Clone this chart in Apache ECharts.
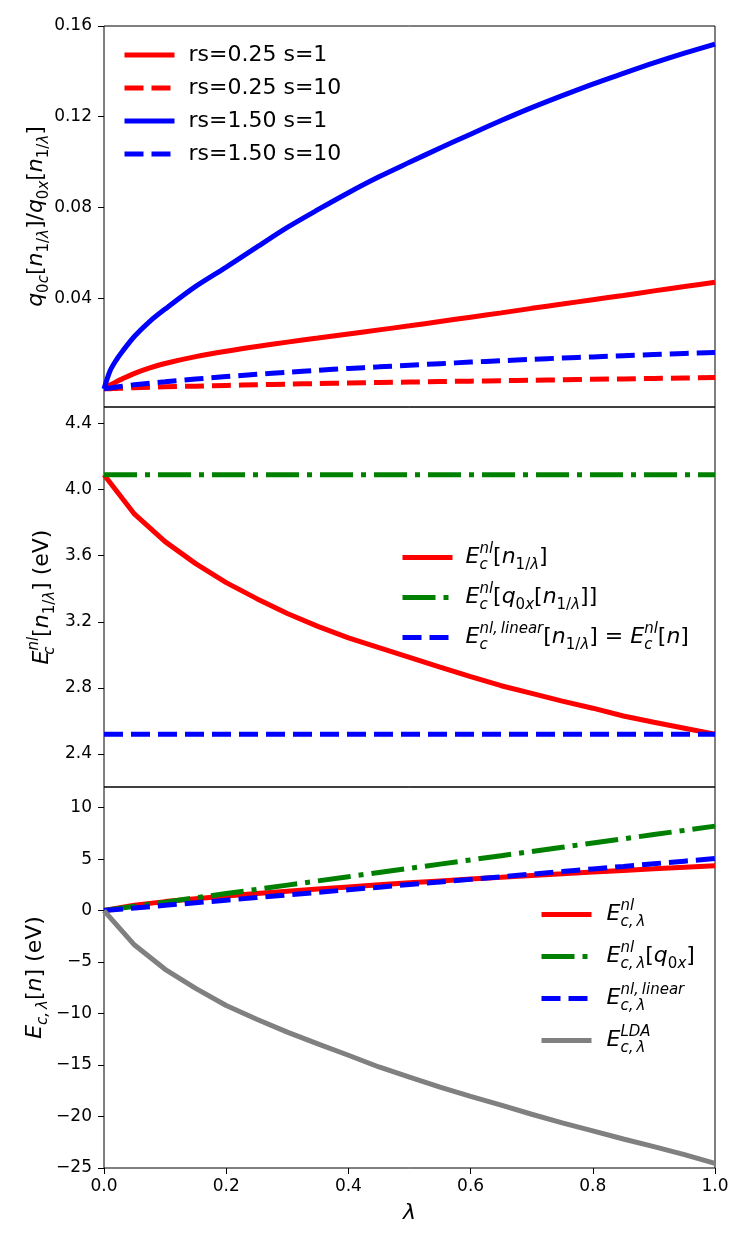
<!DOCTYPE html>
<html>
<head>
<meta charset="utf-8">
<title>Coupling-constant integrand</title>
<script src="https://cdn.jsdelivr.net/npm/echarts@6/dist/echarts.min.js"></script>
<style>
  html, body { margin: 0; padding: 0; background: #fff; }
  #chart { width: 747px; height: 1246px; }
</style>
</head>
<body>
<div id="chart"></div>
<script>
// lambda grids
var lamTop = [0, 0.01, 0.02, 0.03, 0.05, 0.075, 0.1, 0.15, 0.2, 0.25, 0.3, 0.35, 0.4,
	0.45, 0.5, 0.55, 0.6, 0.65, 0.7, 0.75, 0.8, 0.85, 0.9, 0.95, 1.0];
var lam = [0, 0.05, 0.1, 0.15, 0.2, 0.25, 0.3, 0.35, 0.4, 0.45, 0.5,
	0.55, 0.6, 0.65, 0.7, 0.75, 0.8, 0.85, 0.9, 0.95, 1.0];

// top panel: q0c/q0x
var rs025s1 = [0, 0.0017, 0.0031, 0.0044, 0.0068, 0.0092, 0.0112, 0.0142, 0.0166, 0.0187, 0.0206, 0.0224, 0.0242,
	0.0260, 0.0278, 0.0297, 0.0316, 0.0335, 0.0355, 0.0374, 0.0393, 0.0412, 0.0432, 0.0451, 0.0470];
var rs025s10 = [0, 0.0001, 0.0002, 0.0003, 0.0005, 0.0007, 0.0009, 0.0012, 0.0015, 0.0018, 0.0021, 0.0023, 0.0026,
	0.0028, 0.0030, 0.0032, 0.0034, 0.0036, 0.0038, 0.0040, 0.0042, 0.0044, 0.0046, 0.0048, 0.0050];
var rs150s1 = [0, 0.0080, 0.0127, 0.0165, 0.0232, 0.0298, 0.0352, 0.0452, 0.0537, 0.0625, 0.0712, 0.0790, 0.0865,
	0.0935, 0.0999, 0.1062, 0.1123, 0.1183, 0.1240, 0.1293, 0.1344, 0.1391, 0.1437, 0.1480, 0.1520];
var rs150s10 = [0, 0.0004, 0.0008, 0.0012, 0.0018, 0.0025, 0.0031, 0.0043, 0.0054, 0.0064, 0.0073, 0.0082, 0.0090,
	0.0097, 0.0104, 0.0111, 0.0118, 0.0124, 0.0130, 0.0136, 0.0141, 0.0146, 0.0151, 0.0156, 0.0160];

// middle panel: Ec^nl (eV)
var midNl = [4.09, 3.851, 3.685, 3.552, 3.437, 3.340, 3.250, 3.172, 3.103, 3.043, 2.985,
	2.926, 2.868, 2.813, 2.767, 2.720, 2.677, 2.630, 2.592, 2.556, 2.52];
var midQ0x = [4.09, 4.09, 4.09, 4.09, 4.09, 4.09, 4.09, 4.09, 4.09, 4.09, 4.09,
	4.09, 4.09, 4.09, 4.09, 4.09, 4.09, 4.09, 4.09, 4.09, 4.09];
var midLinear = [2.52, 2.52, 2.52, 2.52, 2.52, 2.52, 2.52, 2.52, 2.52, 2.52, 2.52,
	2.52, 2.52, 2.52, 2.52, 2.52, 2.52, 2.52, 2.52, 2.52, 2.52];

// bottom panel: Ec,lambda (eV)
var botNl = [0, 0.53, 0.87, 1.15, 1.41, 1.65, 1.88, 2.09, 2.30, 2.50, 2.69,
	2.88, 3.06, 3.23, 3.41, 3.57, 3.74, 3.90, 4.05, 4.21, 4.36];
var botQ0x = [0, 0.41, 0.82, 1.24, 1.65, 2.06, 2.47, 2.88, 3.29, 3.70, 4.10,
	4.51, 4.92, 5.33, 5.74, 6.15, 6.56, 6.97, 7.38, 7.79, 8.20];
var botLinear = [0, 0.25, 0.51, 0.76, 1.01, 1.26, 1.52, 1.77, 2.02, 2.27, 2.53,
	2.78, 3.03, 3.28, 3.54, 3.79, 4.04, 4.29, 4.55, 4.80, 5.05];
var botLDA = [0, -3.35, -5.70, -7.56, -9.22, -10.55, -11.80, -12.95, -14.05, -15.19, -16.18,
	-17.15, -18.05, -18.90, -19.78, -20.62, -21.40, -22.18, -22.93, -23.70, -24.55];

// tick labels
var xTicks = [0, 0.2, 0.4, 0.6, 0.8, 1.0];
var topTicks = [0.04, 0.08, 0.12, 0.16];
var midTicks = [2.4, 2.8, 3.2, 3.6, 4.0, 4.4];
var botTicks = [-25, -20, -15, -10, -5, 0, 5, 10];

var FONT = 'DejaVu Sans';
var DASHED = [19, 8];
var DASHDOT = [33, 8, 5, 8];

function makeRich(base) {
	var small = Math.round(base * 0.7);
	var lh = Math.round(base * 1.4);
	var sh = small;
	return {
		it: { fontFamily: FONT, fontStyle: 'italic', fontSize: base, lineHeight: lh, color: '#000' },
		rm: { fontFamily: FONT, fontSize: base, lineHeight: lh, color: '#000' },
		sub: { fontFamily: FONT, fontStyle: 'italic', fontSize: small, lineHeight: sh, verticalAlign: 'bottom', color: '#000' },
		subrm: { fontFamily: FONT, fontSize: small, lineHeight: sh, verticalAlign: 'bottom', color: '#000' },
		sup: { fontFamily: FONT, fontStyle: 'italic', fontSize: small, lineHeight: sh, verticalAlign: 'top', color: '#000' },
		sub0: { fontFamily: FONT, fontStyle: 'italic', fontSize: small, lineHeight: sh, verticalAlign: 'bottom', width: 0, color: '#000' },
		sup0: { fontFamily: FONT, fontStyle: 'italic', fontSize: small, lineHeight: sh, verticalAlign: 'top', width: 0, color: '#000' }
	};
}

var legendText = {
	'E_c^nl[n_1/λ]': '{it|E}{sub0|c}{sup|nl}{rm|[}{it|n}{subrm|1/}{sub|λ}{rm|]}',
	'E_c^nl[q_0x[n_1/λ]]': '{it|E}{sub0|c}{sup|nl}{rm|[}{it|q}{subrm|0}{sub|x}{rm|[}{it|n}{subrm|1/}{sub|λ}{rm|]]}',
	'E_c^nl,linear[n_1/λ]=E_c^nl[n]': '{it|E}{sub0|c}{sup|nl,\u2009linear}{rm|[}{it|n}{subrm|1/}{sub|λ}{rm|] = }{it|E}{sub0|c}{sup|nl}{rm|[}{it|n}{rm|]}',
	'E_c,λ^nl': '{it|E}{sup0|nl}{sub|c,\u2009λ}',
	'E_c,λ^nl[q_0x]': '{it|E}{sup0|nl}{sub|c,\u2009λ}{rm|[}{it|q}{subrm|0}{sub|x}{rm|]}',
	'E_c,λ^nl,linear': '{it|E}{sub0|c,\u2009λ}{sup|nl,\u2009linear}',
	'E_c,λ^LDA': '{it|E}{sub0|c,\u2009λ}{sup|LDA}'
};

function pairs(xs, ys) {
	return xs.map(function(x, i) { return [x, ys[i]]; });
}

function line(name, xs, ys, color, type, idx, smooth) {
	return {
		name: name,
		type: 'line',
		xAxisIndex: idx,
		yAxisIndex: idx,
		data: pairs(xs, ys),
		showSymbol: false,
		symbol: 'none',
		smooth: smooth ? 0.3 : false,
		color: color,
		lineStyle: { color: color, width: 5, type: type, cap: 'butt' },
		animation: false
	};
}

function yAxis(idx, min, max, ticks, fmt, name, gap) {
	return {
		type: 'value',
		gridIndex: idx,
		min: min,
		max: max,
		splitLine: { show: false },
		axisLine: { show: false },
		axisTick: { show: true, inside: false, length: 6, customValues: ticks, lineStyle: { color: '#000', width: 1 } },
		axisLabel: { customValues: ticks, formatter: fmt, fontFamily: FONT, fontSize: 17, color: '#000', margin: 12 },
		name: name,
		nameLocation: 'middle',
		nameRotate: 90,
		nameGap: gap,
		nameMoveOverlap: false,
		nameTextStyle: { rich: makeRich(22) }
	};
}

function xAxis(idx, bottom) {
	var ax = {
		type: 'value',
		gridIndex: idx,
		min: 0,
		max: 1,
		interval: 0.2,
		splitLine: { show: false },
		axisLine: { show: false, onZero: false },
		axisTick: { show: false },
		axisLabel: { show: false }
	};
	if (bottom) {
		ax.axisTick = { show: true, inside: false, length: 6, lineStyle: { color: '#000', width: 1 } };
		ax.axisLabel = {
			show: true, fontFamily: FONT, fontSize: 17, color: '#000', margin: 10,
			formatter: function(v) { return v.toFixed(1); }
		};
		ax.name = 'λ';
		ax.nameLocation = 'middle';
		ax.nameGap = 34;
		ax.nameMoveOverlap = false;
		ax.nameTextStyle = { fontFamily: FONT, fontStyle: 'italic', fontSize: 22, color: '#000' };
	}
	return ax;
}

function grid(top, height) {
	return { left: 104, width: 611, top: top, height: height, show: true, borderColor: '#000', borderWidth: 1, backgroundColor: 'transparent' };
}

function legend(left, top, gap, pad, names, rich) {
	var lg = {
		orient: 'vertical', left: left, top: top, padding: 0,
		itemWidth: 50, itemHeight: 14, itemGap: gap,
		lineStyle: { width: 5 },
		itemStyle: { opacity: 0 },
		textStyle: { fontFamily: FONT, fontSize: 22, color: '#000', padding: [0, 0, 0, pad] },
		data: names
	};
	if (rich) {
		lg.formatter = function(name) { return legendText[name]; };
		lg.textStyle.rich = makeRich(22);
	} else {
		lg.textStyle.lineHeight = 26;
	}
	return lg;
}

var myChart = echarts.init(document.getElementById('chart'));
var option = {
	backgroundColor: '#fff',
	animation: false,
	grid: [grid(26, 381), grid(407, 380), grid(787, 381)],
	xAxis: [xAxis(0, false), xAxis(1, false), xAxis(2, true)],
	yAxis: [
		yAxis(0, -0.008, 0.16, topTicks, function(v) { return v.toFixed(2); },
			'{it|q}{subrm|0}{sub|c}{rm|[}{it|n}{subrm|1/}{sub|λ}{rm|]/}{it|q}{subrm|0}{sub|x}{rm|[}{it|n}{subrm|1/}{sub|λ}{rm|]}', 52),
		yAxis(1, 2.2, 4.5, midTicks, function(v) { return v.toFixed(1); },
			'{it|E}{sub0|c}{sup|nl}{rm|[}{it|n}{subrm|1/}{sub|λ}{rm|] (eV)}', 46),
		yAxis(2, -25, 12, botTicks, function(v) { return String(v).replace('-', '\u2212'); },
			'{it|E}{sub|c,\u2009λ}{rm|[}{it|n}{rm|] (eV)}', 53)
	],
	legend: [
		legend(122, 42, 7, 9, ['rs=0.25 s=1', 'rs=0.25 s=10', 'rs=1.50 s=1', 'rs=1.50 s=10'], false),
		legend(400, 542, 9, 8, ['E_c^nl[n_1/λ]', 'E_c^nl[q_0x[n_1/λ]]', 'E_c^nl,linear[n_1/λ]=E_c^nl[n]'], true),
		legend(539, 899, 11, 10, ['E_c,λ^nl', 'E_c,λ^nl[q_0x]', 'E_c,λ^nl,linear', 'E_c,λ^LDA'], true)
	],
	series: [
		line('rs=0.25 s=1', lamTop, rs025s1, '#ff0000', 'solid', 0, true),
		line('rs=0.25 s=10', lamTop, rs025s10, '#ff0000', DASHED, 0, true),
		line('rs=1.50 s=1', lamTop, rs150s1, '#0000ff', 'solid', 0, true),
		line('rs=1.50 s=10', lamTop, rs150s10, '#0000ff', DASHED, 0, true),

		line('E_c^nl[n_1/λ]', lam, midNl, '#ff0000', 'solid', 1),
		line('E_c^nl[q_0x[n_1/λ]]', lam, midQ0x, '#008000', DASHDOT, 1),
		line('E_c^nl,linear[n_1/λ]=E_c^nl[n]', lam, midLinear, '#0000ff', DASHED, 1),

		line('E_c,λ^nl', lam, botNl, '#ff0000', 'solid', 2),
		line('E_c,λ^nl[q_0x]', lam, botQ0x, '#008000', DASHDOT, 2),
		line('E_c,λ^nl,linear', lam, botLinear, '#0000ff', DASHED, 2),
		line('E_c,λ^LDA', lam, botLDA, '#808080', 'solid', 2)
	]
};
myChart.setOption(option);
</script>
</body>
</html>
